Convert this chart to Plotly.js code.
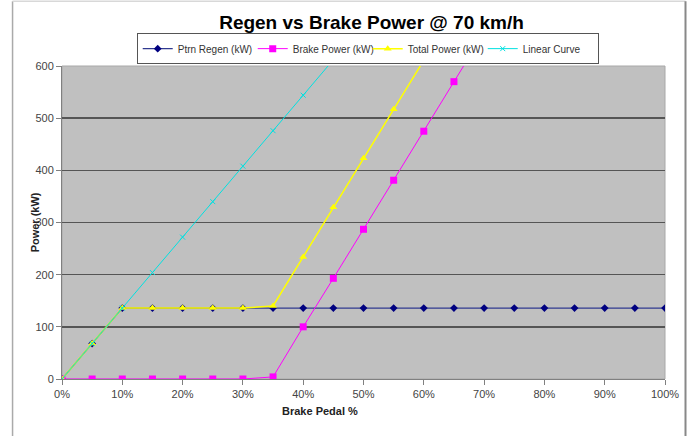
<!DOCTYPE html>
<html>
<head>
<meta charset="utf-8">
<script src="https://cdn.plot.ly/plotly-3.0.1.min.js"></script>
<style>html,body{margin:0;padding:0;background:#fff;}#chart{width:688px;height:436px;}</style>
</head>
<body>
<div id="chart"></div>
<script>
// Brake pedal positions (fraction, shown as %)
const pedalAll = [0,0.05,0.10,0.15,0.20,0.25,0.30,0.35,0.40,0.45,0.50,0.55,0.60,0.65,0.70,0.75,0.80,0.85,0.90,0.95,1.00];
const regenKW  = [0,68,136,136,136,136,136,136,136,136,136,136,136,136,136,136,136,136,136,136,136];
const pedalBrake = [0,0.05,0.10,0.15,0.20,0.25,0.30,0.35,0.40,0.45,0.50,0.55,0.60,0.65,0.70];
const brakeKW    = [0,0,0,0,0,0,0,4,100,193,287,381,475,570,664];
const pedalTotal = [0,0.05,0.10,0.15,0.20,0.25,0.30,0.35,0.40,0.45,0.50,0.55,0.60];
const totalKW    = [0,68,136,136,136,136,136,140,234,329,423,517,611];
const pedalLinear = [0,0.05,0.10,0.15,0.20,0.25,0.30,0.35,0.40,0.45];
const linearKW    = [0,68,136,204,272,340,408,476,544,612];
const xTickVals = [0,0.1,0.2,0.3,0.4,0.5,0.6,0.7,0.8,0.9,1.0];
const xTickText = ['0%','10%','20%','30%','40%','50%','60%','70%','80%','90%','100%'];
const yTickVals = [0,100,200,300,400,500,600];

const traces = [
  {x: pedalAll, y: regenKW, name: 'Ptrn Regen (kW)', mode: 'lines+markers',
   line: {color: '#303a90', width: 1.2}, marker: {symbol: 'diamond', size: 6, color: '#000080'}},
  {x: pedalBrake, y: brakeKW, name: 'Brake Power (kW)', mode: 'lines+markers',
   line: {color: '#ff00ff', width: 1}, marker: {symbol: 'square', size: 7, color: '#ff00ff'}},
  {x: pedalTotal, y: totalKW, name: 'Total Power (kW)', mode: 'lines+markers',
   line: {color: '#ffff00', width: 1.5}, marker: {symbol: 'triangle-up', size: 7, color: '#ffff00'}},
  {x: pedalLinear, y: linearKW, name: 'Linear Curve', mode: 'lines+markers',
   line: {color: '#00e0e0', width: 1}, marker: {symbol: 'x-thin-open', size: 5, color: '#00e0e0', line: {color: '#00e0e0', width: 1}}}
];

const layout = {
  width: 688, height: 436,
  margin: {l: 62, r: 23, t: 66, b: 57, pad: 0},
  paper_bgcolor: '#ffffff',
  plot_bgcolor: '#c0c0c0',
  font: {family: 'Arial, Liberation Sans, sans-serif', size: 11, color: '#333333'},
  title: {text: '<b>Regen vs Brake Power @ 70 km/h</b>', x: 0.54, xanchor: 'center', y: 0.948, yanchor: 'middle',
          font: {family: 'Arial, Liberation Sans, sans-serif', size: 19, color: '#000000'}},
  showlegend: true,
  legend: {orientation: 'h', x: 0.507, xanchor: 'center', y: 1.105, yanchor: 'top',
           bordercolor: '#555555', borderwidth: 1, bgcolor: '#ffffff',
           font: {size: 10, color: '#333333'}, itemwidth: 30, tracegroupgap: 0,
           entrywidth: 70, entrywidthmode: 'pixels'},
  xaxis: {range: [0, 1], tickvals: xTickVals, ticktext: xTickText, showgrid: false, zeroline: false,
          showline: true, linecolor: '#808080', linewidth: 1, ticks: 'outside', ticklen: 5, tickcolor: '#808080',
          tickfont: {size: 11, color: '#444444'}},
  yaxis: {range: [0, 600], tickvals: yTickVals, showgrid: true, gridcolor: '#555555', gridwidth: 1.5,
          zeroline: false, showline: true, linecolor: '#808080', linewidth: 1, ticks: 'outside', ticklen: 5,
          tickcolor: '#808080',
          tickfont: {size: 11, color: '#444444'}},
  annotations: [
    {text: '<b>Brake Pedal %</b>', xref: 'paper', yref: 'paper', x: 0.428, y: -0.103, xanchor: 'center', yanchor: 'middle',
     showarrow: false, font: {size: 11, color: '#222222'}},
    {text: '<b>Power (kW)</b>', xref: 'paper', yref: 'paper', x: -0.045, y: 0.5, xanchor: 'center', yanchor: 'middle',
     textangle: -90, showarrow: false, font: {size: 11, color: '#222222'}}
  ],
  shapes: [
    {type: 'line', xref: 'paper', yref: 'paper', x0: -0.082, x1: -0.082, y0: -0.3, y1: 1.207, line: {color: '#aaaaaa', width: 1.5}},
    {type: 'line', xref: 'paper', yref: 'paper', x0: -0.082, x1: 1.034, y0: 1.207, y1: 1.207, line: {color: '#d8d8d8', width: 1.5}},
    {type: 'line', xref: 'paper', yref: 'paper', x0: 1.034, x1: 1.034, y0: -0.3, y1: 1.207, line: {color: '#888888', width: 2}},
    {type: 'rect', xref: 'paper', yref: 'paper', x0: 0, x1: 1, y0: 0, y1: 1, line: {color: '#a8a8a8', width: 1}, layer: 'below'}
  ]
};

Plotly.newPlot('chart', traces, layout, {displayModeBar: false, staticPlot: true});
</script>
</body>
</html>
